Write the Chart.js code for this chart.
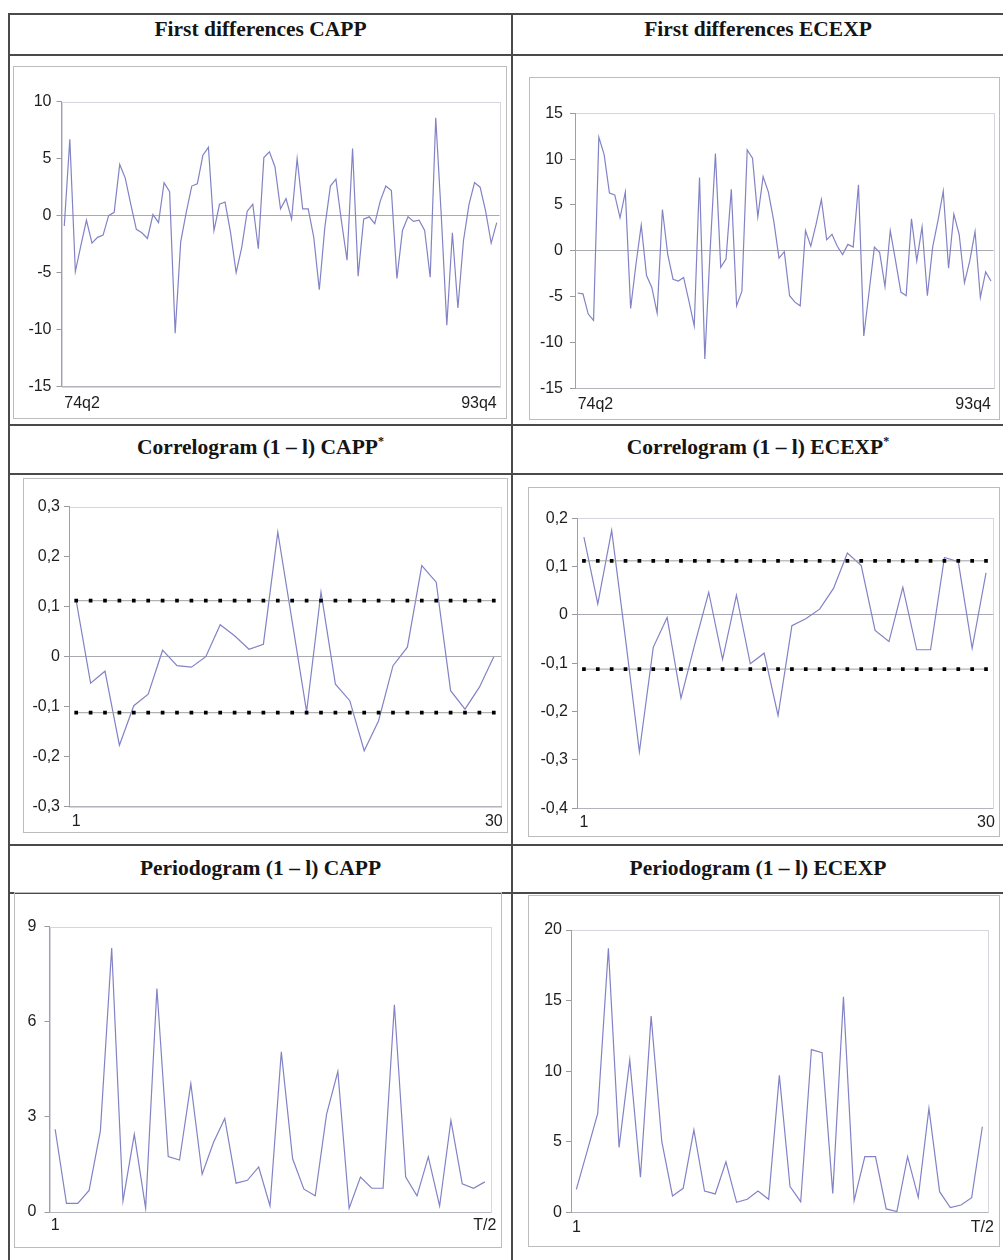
<!DOCTYPE html>
<html>
<head>
<meta charset="utf-8">
<script src="https://cdn.jsdelivr.net/npm/chart.js@4/dist/chart.umd.min.js"></script>
<style>
  html, body { margin: 0; padding: 0; background: #fff; }
  body { width: 1003px; height: 1260px; position: relative; overflow: hidden;
         font-family: "Liberation Serif", "Times New Roman", serif; }
  .hl { position: absolute; height: 2px; background: #4a4a4a; }
  .vl { position: absolute; width: 2px; background: #4a4a4a; }
  .hdr { position: absolute; height: 30px; line-height: 30px; text-align: center;
         font-weight: bold; font-size: 21.5px; color: #151515; white-space: nowrap; }
  .hdr .sup { font-size: 12px; position: relative; top: -9px; }
  .frame { position: absolute; border: 1px solid #bcbcbc; box-sizing: border-box; }
  canvas { position: absolute; }
</style>
</head>
<body>
<!-- table lines -->
<div class="hl" style="left:8px; top:13px; width:995px;"></div>
<div class="hl" style="left:8px; top:54px; width:995px;"></div>
<div class="hl" style="left:8px; top:424px; width:995px;"></div>
<div class="hl" style="left:8px; top:473px; width:995px;"></div>
<div class="hl" style="left:8px; top:844px; width:995px;"></div>
<div class="hl" style="left:8px; top:892px; width:995px;"></div>
<div class="vl" style="left:8px; top:13px; height:1247px;"></div>
<div class="vl" style="left:511px; top:13px; height:1247px;"></div>

<!-- headers -->
<div class="hdr" style="left:10px; width:501px; top:14px;">First differences CAPP</div>
<div class="hdr" style="left:513px; width:490px; top:14px;">First differences ECEXP</div>
<div class="hdr" style="left:10px; width:501px; top:432px;">Correlogram (1 – l) CAPP<span class="sup">*</span></div>
<div class="hdr" style="left:513px; width:490px; top:432px;">Correlogram (1 – l) ECEXP<span class="sup">*</span></div>
<div class="hdr" style="left:10px; width:501px; top:853px;">Periodogram (1 – l) CAPP</div>
<div class="hdr" style="left:513px; width:490px; top:853px;">Periodogram (1 – l) ECEXP</div>

<div id="charts"></div>

<script>
// ---------------- DATA ----------------
// quarterly categories 74q2 ... 93q4
const quarters = [];
for (let y = 74; y <= 93; y++) {
  for (let q = 1; q <= 4; q++) {
    if (y === 74 && q < 2) continue;
    quarters.push(y + 'q' + q);
  }
}
const fdTickLabels = ['74q2', '93q4'];

const capDiff = [-0.9, 6.7, -4.9, -2.6, -0.4, -2.4, -1.9, -1.7, 0.0, 0.3,
  4.5, 3.3, 1.0, -1.2, -1.5, -2.0, 0.1, -0.6, 2.9, 2.1,
  -10.3, -2.3, 0.3, 2.6, 2.8, 5.3, 6.0, -1.3, 1.0, 1.2,
  -1.5, -5.0, -2.8, 0.4, 1.0, -2.9, 5.1, 5.6, 4.3, 0.6,
  1.5, -0.3, 5.0, 0.6, 0.6, -1.9, -6.5, -1.0, 2.6, 3.2,
  -0.5, -3.9, 5.9, -5.3, -0.3, -0.1, -0.7, 1.3, 2.6, 2.2,
  -5.5, -1.3, -0.1, -0.5, -0.4, -1.3, -5.4, 8.6, 0.0, -9.6,
  -1.5, -8.1, -2.2, 1.0, 2.9, 2.5, 0.4, -2.4, -0.6];

const ecDiff = [-4.6, -4.7, -6.9, -7.6, 12.4, 10.5, 6.3, 6.1, 3.6, 6.4,
  -6.3, -1.5, 2.8, -2.7, -4.0, -6.8, 4.5, -0.4, -3.1, -3.3,
  -2.9, -5.5, -8.2, 8.0, -11.8, 0.0, 10.6, -1.8, -0.9, 6.7,
  -6.0, -4.4, 11.0, 10.1, 3.7, 8.1, 6.4, 3.3, -0.8, -0.1,
  -4.9, -5.6, -6.0, 2.2, 0.5, 2.9, 5.6, 1.2, 1.8, 0.5,
  -0.4, 0.7, 0.4, 7.2, -9.3, -4.5, 0.4, -0.2, -3.9, 2.2,
  -1.1, -4.5, -4.9, 3.5, -1.1, 2.6, -4.9, 0.4, 3.3, 6.5,
  -1.9, 4.0, 1.8, -3.5, -1.1, 2.1, -5.1, -2.3, -3.3];

const lags = ['1','2','3','4','5','6','7','8','9','10','11','12','13','14','15',
  '16','17','18','19','20','21','22','23','24','25','26','27','28','29','30'];
const acfTickLabels = ['1', '30'];
const acfBound = 0.112;

const capAcf = [0.112, -0.053, -0.029, -0.177, -0.098, -0.075, 0.013, -0.018, -0.021, 0.0,
  0.064, 0.042, 0.015, 0.025, 0.249, 0.07, -0.11, 0.129, -0.055, -0.088,
  -0.188, -0.128, -0.018, 0.019, 0.182, 0.149, -0.068, -0.105, -0.061, 0.0];

const ecAcf = [0.161, 0.023, 0.175, -0.05, -0.283, -0.067, -0.005, -0.172, -0.06, 0.047,
  -0.092, 0.041, -0.101, -0.079, -0.208, -0.022, -0.008, 0.012, 0.055, 0.128,
  0.102, -0.032, -0.055, 0.057, -0.072, -0.072, 0.119, 0.11, -0.069, 0.087];

const freqs = ['1','2','3','4','5','6','7','8','9','10','11','12','13','14','15','16','17','18','19','20',
  '21','22','23','24','25','26','27','28','29','30','31','32','33','34','35','36','37','38','39'];
const perTickLabels = ['1', 'T/2'];

const capPer = [2.61, 0.27, 0.27, 0.68, 2.56, 8.33, 0.35, 2.45, 0.12, 7.05,
  1.75, 1.64, 4.05, 1.19, 2.19, 2.95, 0.91, 1.0, 1.42, 0.19,
  5.05, 1.68, 0.72, 0.51, 3.08, 4.43, 0.12, 1.1, 0.75, 0.75,
  6.54, 1.1, 0.51, 1.74, 0.19, 2.89, 0.89, 0.75, 0.95];

const ecPer = [1.63, 4.3, 7.0, 18.7, 4.6, 10.8, 2.48, 13.9, 5.0, 1.16,
  1.7, 5.83, 1.5, 1.3, 3.58, 0.71, 0.92, 1.5, 0.92, 9.7,
  1.82, 0.75, 11.53, 11.3, 1.34, 15.26, 0.83, 3.94, 3.94, 0.24,
  0.05, 3.94, 1.06, 7.36, 1.46, 0.33, 0.52, 1.04, 6.06];

// ---------------- STYLE / LAYOUT ----------------
const LINE = '#8282c6';
const TICKFONT = { family: '"Liberation Sans", Arial, sans-serif', size: 16 };
const TICKCOLOR = '#1e1e1e';

const areaBorder = {
  id: 'areaBorder',
  beforeDraw(chart) {
    const { ctx, chartArea: a } = chart;
    ctx.save();
    ctx.strokeStyle = '#d6d6de';
    ctx.lineWidth = 1;
    ctx.strokeRect(Math.round(a.left) + 0.5, Math.round(a.top) + 0.5,
                   Math.round(a.right - a.left), Math.round(a.bottom - a.top));
    ctx.restore();
  }
};

function fmtComma(v) {
  if (Math.abs(v) < 1e-9) return '0';
  return v.toFixed(1).replace('.', ',');
}

function makeChart(spec) {
  const f = spec.frame, p = spec.plot;
  const host = document.getElementById('charts');
  const fr = document.createElement('div');
  fr.className = 'frame';
  fr.style.left = f.x + 'px'; fr.style.top = f.y + 'px';
  fr.style.width = f.w + 'px'; fr.style.height = f.h + 'px';
  host.appendChild(fr);
  const cv = document.createElement('canvas');
  cv.width = f.w; cv.height = f.h;
  cv.style.left = f.x + 'px'; cv.style.top = f.y + 'px';
  cv.style.width = f.w + 'px'; cv.style.height = f.h + 'px';
  host.appendChild(cv);

  const yW = p.l - f.x;
  const xH = (f.y + f.h) - p.b;
  const tl = spec.tickLabels;

  const datasets = [{
    data: spec.values,
    borderColor: LINE,
    borderWidth: 1.2,
    pointRadius: 0,
    tension: 0,
    fill: false,
    order: 1
  }];
  if (spec.bound) {
    const up = spec.labels.map(() => spec.bound);
    const lo = spec.labels.map(() => -spec.bound);
    [up, lo].forEach(d => datasets.push({
      data: d,
      borderColor: '#a0a0a0',
      borderWidth: 1,
      pointStyle: 'rect',
      pointRadius: 2.6,
      pointBackgroundColor: '#000',
      pointBorderColor: '#000',
      pointBorderWidth: 0,
      tension: 0,
      fill: false,
      order: 0
    }));
  }

  new Chart(cv, {
    type: 'line',
    data: { labels: spec.labels, datasets },
    options: {
      responsive: false,
      animation: false,
      devicePixelRatio: 1,
      layout: { padding: { left: 0, top: p.t - f.y, right: (f.x + f.w) - p.r, bottom: 0 } },
      plugins: { legend: { display: false }, tooltip: { enabled: false } },
      scales: {
        x: {
          type: 'category',
          offset: true,
          grid: { display: false, drawTicks: false },
          border: { display: true, color: '#b4b4bc', width: 1 },
          ticks: {
            autoSkip: false,
            maxRotation: 0,
            minRotation: 0,
            align: spec.xAlign,
            padding: spec.xPad,
            color: TICKCOLOR,
            font: TICKFONT,
            callback: (v, i, arr) => i === 0 ? tl[0] : (i === arr.length - 1 ? tl[1] : '')
          },
          afterFit: s => { s.height = xH; }
        },
        y: {
          min: spec.yMin, max: spec.yMax,
          grid: {
            drawOnChartArea: true,
            drawTicks: true,
            tickLength: 5,
            tickColor: '#9a9a9a',
            lineWidth: 1,
            color: ctx => (ctx.tick && Math.abs(ctx.tick.value) < 1e-9) ? '#a9a9b2' : 'rgba(0,0,0,0)'
          },
          border: { display: true, color: '#a0a0a8', width: 1 },
          ticks: {
            stepSize: spec.yStep,
            padding: spec.yPad,
            color: TICKCOLOR,
            font: TICKFONT,
            callback: spec.yFmt || (v => String(v))
          },
          afterFit: s => { s.width = yW; }
        }
      }
    },
    plugins: [areaBorder]
  });
}

makeChart({
  frame: { x: 13, y: 66, w: 494, h: 353 },
  plot: { l: 61.5, t: 101.7, r: 499.5, b: 386.7 },
  labels: quarters, values: capDiff, tickLabels: fdTickLabels,
  yMin: -15, yMax: 10, yStep: 5, yPad: 5, xPad: 7, xAlign: 'inner'
});
makeChart({
  frame: { x: 529, y: 77, w: 471, h: 343 },
  plot: { l: 575, t: 113.3, r: 993.6, b: 388.3 },
  labels: quarters, values: ecDiff, tickLabels: fdTickLabels,
  yMin: -15, yMax: 15, yStep: 5, yPad: 7, xPad: 7, xAlign: 'inner'
});
makeChart({
  frame: { x: 23, y: 478, w: 485, h: 355 },
  plot: { l: 69, t: 506.7, r: 501, b: 806.7 },
  labels: lags, values: capAcf, tickLabels: acfTickLabels, bound: acfBound,
  yMin: -0.3, yMax: 0.3, yStep: 0.1, yPad: 4, xPad: 5, xAlign: 'center', yFmt: fmtComma
});
makeChart({
  frame: { x: 528, y: 487, w: 472, h: 350 },
  plot: { l: 577, t: 518.3, r: 995, b: 808.3 },
  labels: lags, values: ecAcf, tickLabels: acfTickLabels, bound: acfBound,
  yMin: -0.4, yMax: 0.2, yStep: 0.1, yPad: 4, xPad: 5, xAlign: 'center', yFmt: fmtComma
});
makeChart({
  frame: { x: 14, y: 892, w: 488, h: 356 },
  plot: { l: 49.5, t: 926.7, r: 490.5, b: 1212 },
  labels: freqs, values: capPer, tickLabels: perTickLabels,
  yMin: 0, yMax: 9, yStep: 3, yPad: 8, xPad: 4, xAlign: 'center'
});
makeChart({
  frame: { x: 528, y: 895, w: 472, h: 352 },
  plot: { l: 571, t: 930, r: 993, b: 1212.3 },
  labels: freqs, values: ecPer, tickLabels: perTickLabels,
  yMin: 0, yMax: 20, yStep: 5, yPad: 4, xPad: 6, xAlign: 'center'
});
</script>
</body>
</html>
